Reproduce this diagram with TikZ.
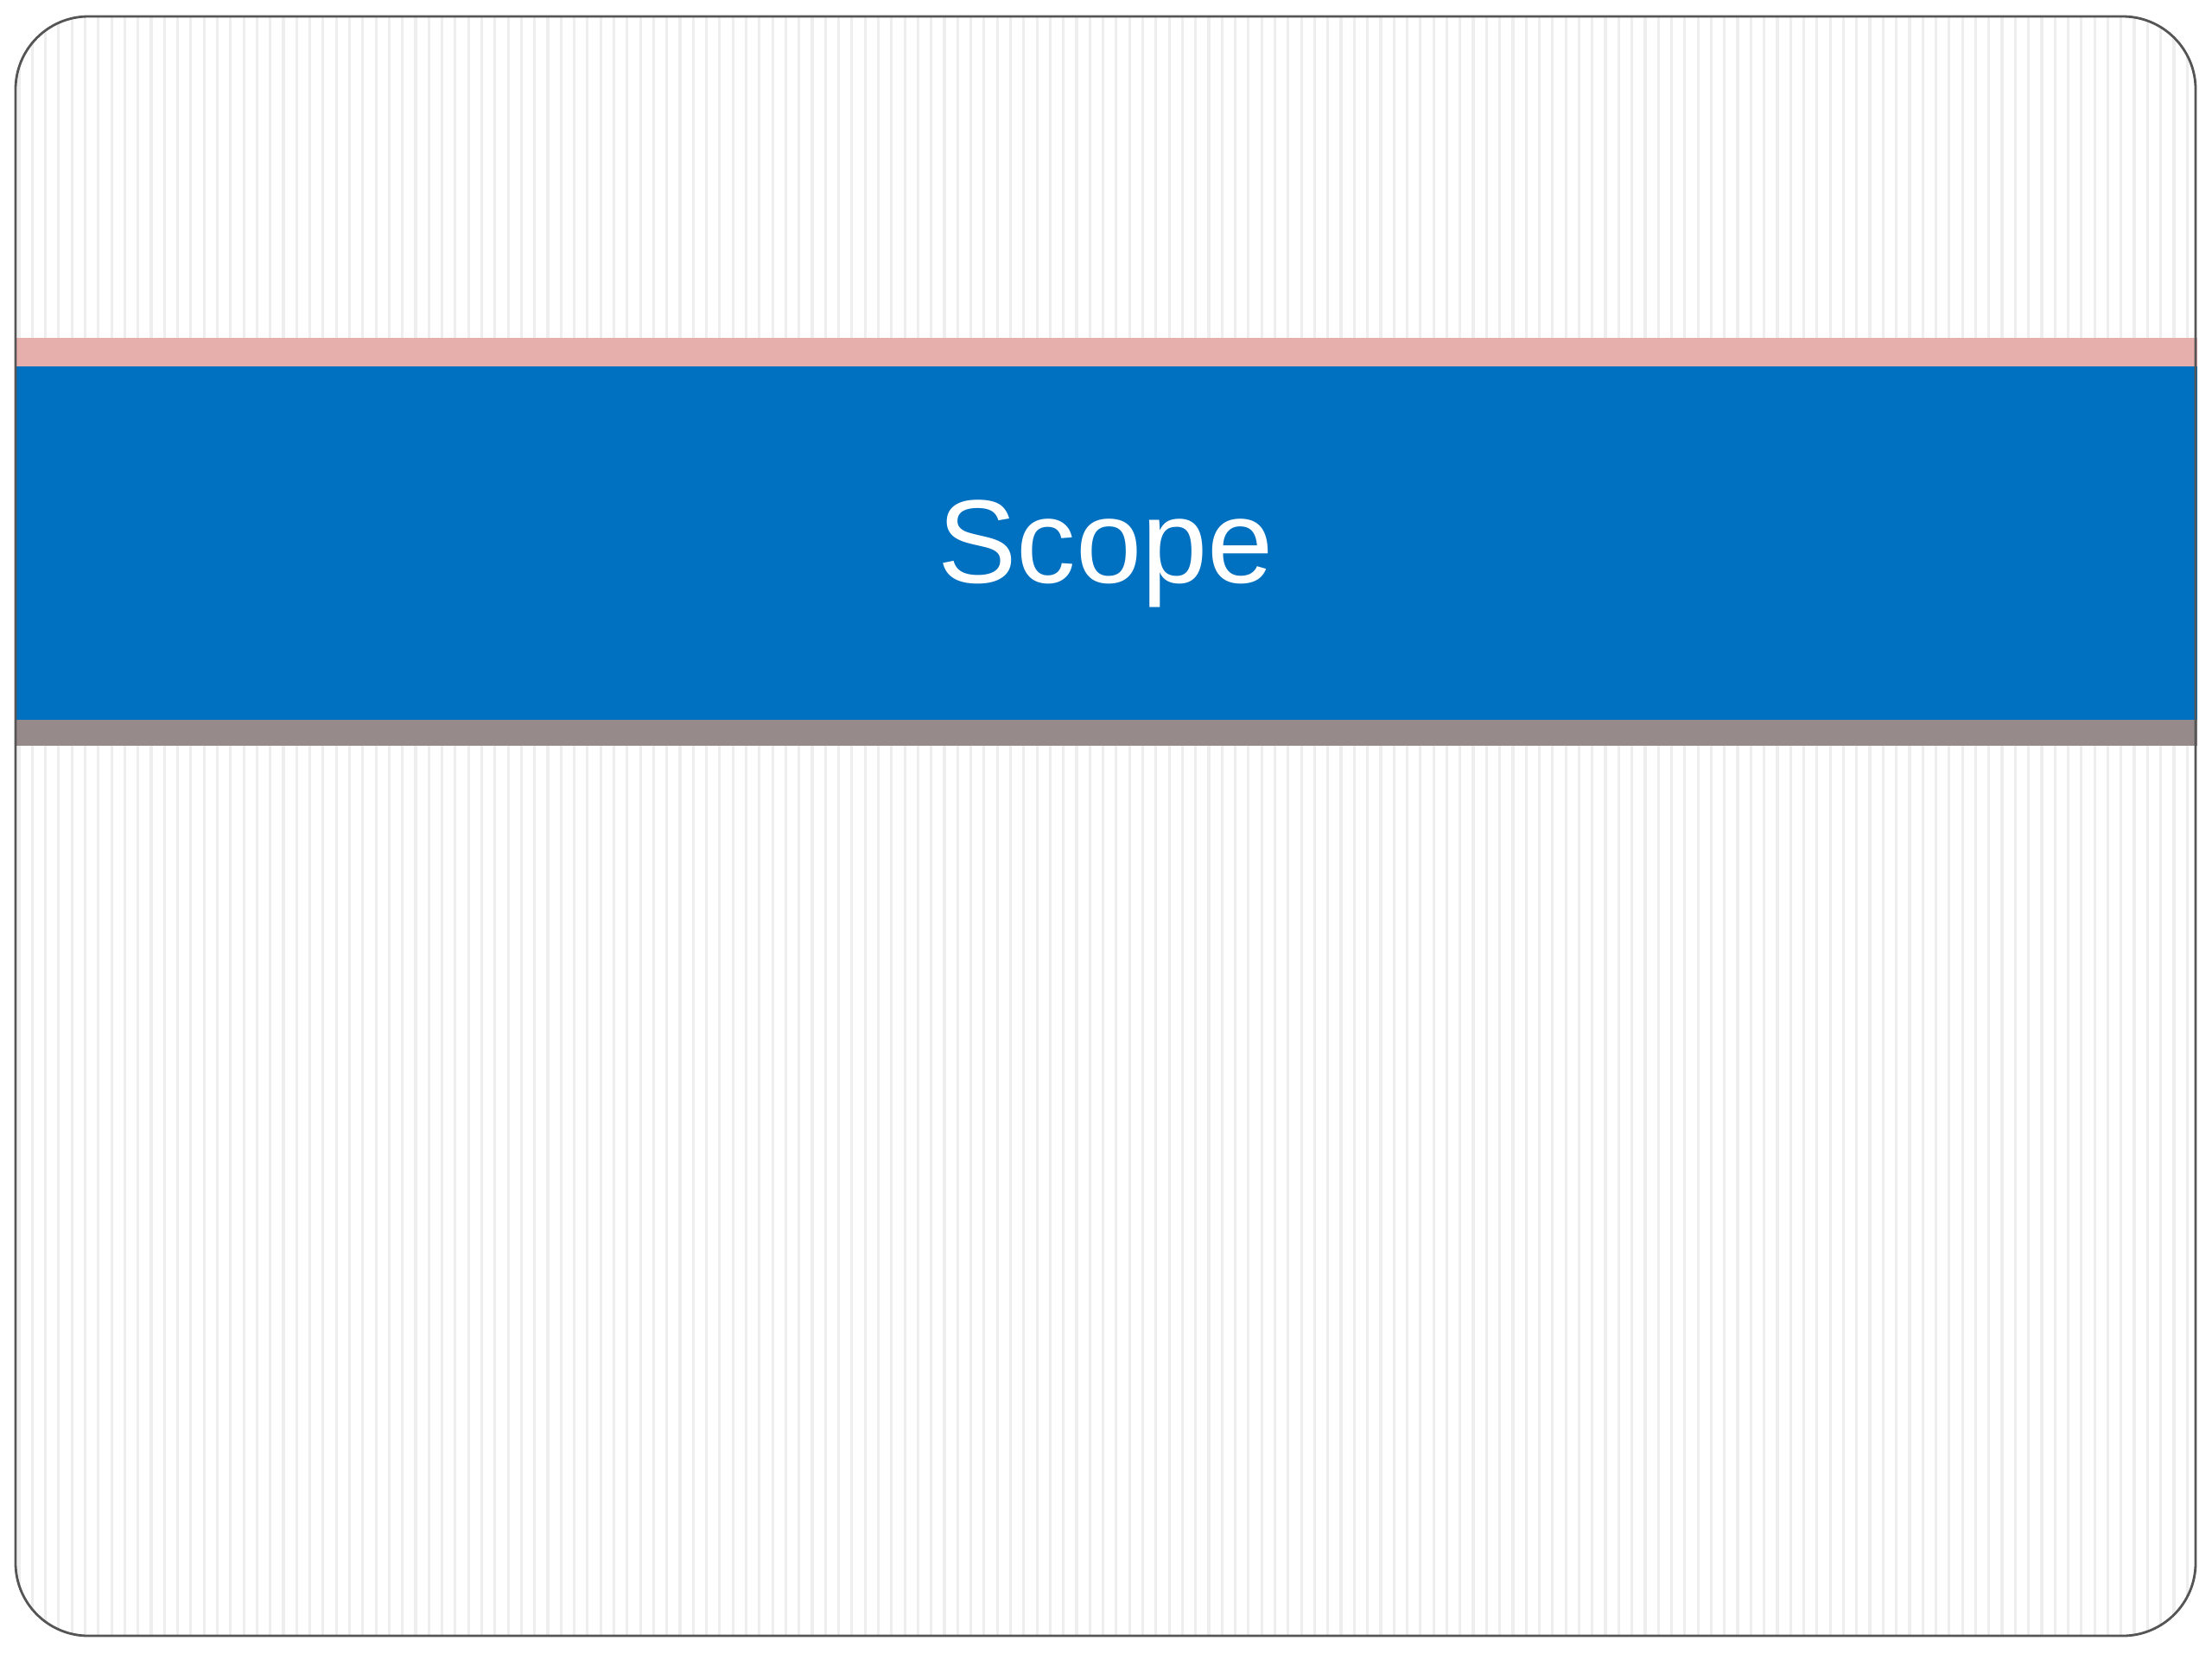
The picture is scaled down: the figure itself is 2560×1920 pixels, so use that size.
\documentclass[tikz,border=0pt]{standalone}
\usepackage{fontspec}
\setmainfont{Liberation Sans}
\definecolor{bandpink}{HTML}{E6AFAB}
\definecolor{bandblue}{HTML}{0070C0}
\definecolor{bandgray}{HTML}{968A8A}
\definecolor{stripegray}{HTML}{EEEEEE}
\definecolor{framegray}{HTML}{555555}
\tikzset{
  stripe/.style={draw=stripegray, line width=0.9pt},
  frameline/.style={draw=framegray, line width=0.8pt, rounded corners=24pt},
  titletext/.style={text=white, anchor=base, inner sep=0pt, font=\fontsize{39}{46}\selectfont}
}
\begin{document}
\begin{tikzpicture}[x=0.01cm,y=-0.01cm]
\useasboundingbox (0,0) rectangle (2560,1920);
\fill[white] (0,0) rectangle (2560,1920);
\begin{scope}
  \clip[rounded corners=24pt] (18,19) rectangle (2541,1893);
  \foreach \i in {0,...,165} {
    \draw[stripe] ({22+\i*15.3},19) -- ({22+\i*15.3},1893);
  }
\end{scope}
\fill[bandpink] (18,391) rectangle (2543,424);
\fill[bandblue] (18,424) rectangle (2543,833);
\fill[bandgray] (18,833) rectangle (2543,863);
\draw[frameline] (18,19) rectangle (2541,1893);
\node[titletext] (title) at (1279.5,674) {Scope};
\end{tikzpicture}
\end{document}
